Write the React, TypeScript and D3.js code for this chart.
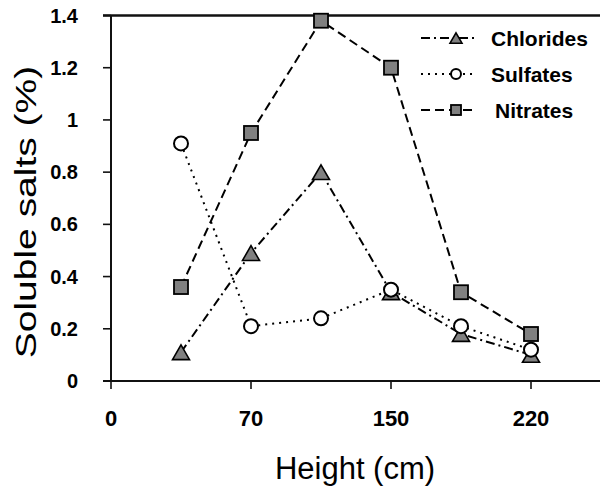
import { useEffect, useRef } from 'react';
import * as d3 from 'd3';

// heights where samples were taken (cm)
const heights = [35, 70, 110, 150, 185, 220];
const chlorides = [0.11, 0.49, 0.8, 0.34, 0.18, 0.1];
const sulfates = [0.91, 0.21, 0.24, 0.35, 0.21, 0.12];
const nitrates = [0.36, 0.95, 1.38, 1.2, 0.34, 0.18];

const xTicks = [0, 70, 150, 220];
const yTicks = [0, 0.2, 0.4, 0.6, 0.8, 1, 1.2, 1.4];

const W = 600;
const H = 488;

const App = () => {
  const ref = useRef<SVGSVGElement>(null);

  useEffect(() => {
    if (!ref.current) return;
    const svg = d3.select(ref.current);
    svg.selectAll('*').remove();

    const left = 111;
    const top = 15.5;
    const bottom = 381;
    const step = 140;

    // axis ticks are evenly spaced although their labels are not
    const x = d3
      .scaleLinear()
      .domain(xTicks)
      .range(xTicks.map((_, i) => left + i * step));
    const y = d3.scaleLinear().domain([0, 1.4]).range([bottom, top]);

    const font = 'Liberation Sans, Arial, sans-serif';

    // frame
    svg
      .append('line')
      .attr('x1', left - 8)
      .attr('x2', W)
      .attr('y1', top)
      .attr('y2', top)
      .attr('stroke', '#111')
      .attr('stroke-width', 2.6);
    svg
      .append('line')
      .attr('x1', left)
      .attr('x2', left)
      .attr('y1', top)
      .attr('y2', bottom)
      .attr('stroke', '#111')
      .attr('stroke-width', 2);
    svg
      .append('line')
      .attr('x1', left - 8)
      .attr('x2', W)
      .attr('y1', bottom)
      .attr('y2', bottom)
      .attr('stroke', '#111')
      .attr('stroke-width', 2);

    // y ticks
    const yt = svg.append('g');
    yt.selectAll('line')
      .data(yTicks)
      .enter()
      .append('line')
      .attr('x1', left - 8)
      .attr('x2', left)
      .attr('y1', (d) => y(d))
      .attr('y2', (d) => y(d))
      .attr('stroke', '#111')
      .attr('stroke-width', 1.6);
    yt.selectAll('text')
      .data(yTicks)
      .enter()
      .append('text')
      .attr('x', 78)
      .attr('y', (d) => y(d) + 7)
      .attr('text-anchor', 'end')
      .attr('font-family', font)
      .attr('font-weight', 'bold')
      .attr('font-size', 20)
      .text((d) => String(d));

    // x ticks
    const xt = svg.append('g');
    xt.selectAll('line')
      .data(xTicks)
      .enter()
      .append('line')
      .attr('x1', (d) => x(d))
      .attr('x2', (d) => x(d))
      .attr('y1', bottom)
      .attr('y2', bottom + 8)
      .attr('stroke', '#111')
      .attr('stroke-width', 1.6);
    xt.selectAll('text')
      .data(xTicks)
      .enter()
      .append('text')
      .attr('x', (d) => x(d))
      .attr('y', 426)
      .attr('text-anchor', 'middle')
      .attr('font-family', font)
      .attr('font-weight', 'bold')
      .attr('font-size', 22)
      .text((d) => String(d));

    // axis titles
    svg
      .append('text')
      .attr('x', 355)
      .attr('y', 479)
      .attr('text-anchor', 'middle')
      .attr('font-family', font)
      .attr('font-size', 31)
      .text('Height (cm)');
    svg
      .append('text')
      .attr('transform', 'translate(36, 212) rotate(-90) scale(1.3, 1)')
      .attr('text-anchor', 'middle')
      .attr('font-family', font)
      .attr('font-size', 30)
      .text('Soluble salts (%)');

    const series = [
      { name: 'Chlorides', values: chlorides, dash: '9,4,2,4', shape: 'tri' },
      { name: 'Nitrates', values: nitrates, dash: '9,5', shape: 'sq' },
      { name: 'Sulfates', values: sulfates, dash: '2,5', shape: 'circ' },
    ];

    const line = d3
      .line<number>()
      .x((_, i) => x(heights[i]))
      .y((d) => y(d));

    const drawMarker = (
      g: d3.Selection<SVGGElement, unknown, null, undefined>,
      shape: string,
      cx: number,
      cy: number,
      big: boolean,
    ) => {
      if (shape === 'circ') {
        g.append('circle')
          .attr('cx', cx)
          .attr('cy', cy)
          .attr('r', big ? 7 : 5)
          .attr('fill', '#fff')
          .attr('stroke', '#000')
          .attr('stroke-width', 2);
      } else if (shape === 'sq') {
        const s = big ? 14 : 10;
        g.append('rect')
          .attr('x', cx - s / 2)
          .attr('y', cy - s / 2)
          .attr('width', s)
          .attr('height', s)
          .attr('fill', '#808080')
          .attr('stroke', '#000')
          .attr('stroke-width', 1.8);
      } else {
        const size = big ? 125 : 62;
        const r = Math.sqrt(size / (3 * Math.sqrt(3)));
        g.append('path')
          .attr('d', d3.symbol().type(d3.symbolTriangle).size(size)()!)
          .attr('transform', `translate(${cx},${cy + r / 2})`)
          .attr('fill', '#808080')
          .attr('stroke', '#000')
          .attr('stroke-width', 1.6);
      }
    };

    series.forEach((s) => {
      svg
        .append('path')
        .attr('d', line(s.values)!)
        .attr('fill', 'none')
        .attr('stroke', '#000')
        .attr('stroke-width', 2)
        .attr('stroke-dasharray', s.dash);
    });
    series.forEach((s) => {
      const g = svg.append('g');
      s.values.forEach((v, i) => drawMarker(g, s.shape, x(heights[i]), y(v), true));
    });

    // legend
    const legendOrder = [series[0], series[2], series[1]];
    const legendY = [38, 74, 110];
    legendOrder.forEach((s, i) => {
      const g = svg.append('g');
      const ly = legendY[i];
      g.append('line')
        .attr('x1', 421)
        .attr('x2', 477)
        .attr('y1', ly)
        .attr('y2', ly)
        .attr('stroke', '#000')
        .attr('stroke-width', 2)
        .attr('stroke-dasharray', s.dash);
      drawMarker(g, s.shape, 456, ly, false);
      g.append('text')
        .attr('x', i === 2 ? 495 : 491)
        .attr('y', ly + 8)
        .attr('font-family', font)
        .attr('font-weight', 'bold')
        .attr('font-size', 21)
        .text(s.name);
    });
  }, []);

  return (
    <svg
      ref={ref}
      width={W}
      height={H}
      style={{ position: 'absolute', left: 0, top: 0, background: '#fff' }}
    />
  );
};

export default App;
